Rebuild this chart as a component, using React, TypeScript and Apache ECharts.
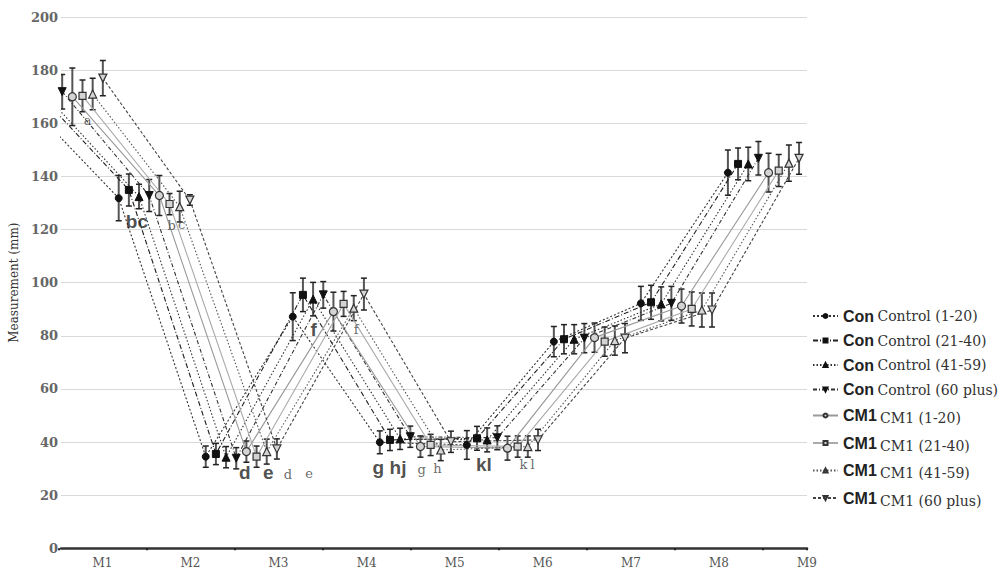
import React, { useEffect, useRef } from 'react';
import * as echarts from 'echarts';

const categories = ['M1', 'M2', 'M3', 'M4', 'M5', 'M6', 'M7', 'M8', 'M9'];
const seriesNames = [
  'Control (1-20)', 'Control (21-40)', 'Control (41-59)', 'Control (60 plus)',
  'CM1 (1-20)', 'CM1 (21-40)', 'CM1 (41-59)', 'CM1 (60 plus)',
];

const control1 = [166, 131.8, 34.5, 87.2, 39.9, 38.9, 77.8, 92.2, 141.4];
const control2 = [170, 134.9, 35.5, 95.4, 40.8, 41.4, 78.7, 92.6, 144.7];
const control3 = [168, 132.4, 34.3, 93.8, 41.2, 40.8, 78.7, 92.0, 144.7];
const control4 = [171.9, 132.8, 33.9, 95.4, 42.0, 41.6, 79.1, 92.2, 146.8];
const cm1a = [170.0, 132.8, 36.4, 89.1, 38.3, 37.7, 79.3, 91.2, 141.4];
const cm1b = [170.3, 129.6, 34.5, 92.0, 38.9, 38.3, 77.8, 90.1, 142.2];
const cm1c = [171.0, 128.6, 36.4, 90.4, 37.0, 38.3, 78.2, 89.7, 145.0];
const cm1d = [177.0, 131.1, 37.4, 95.7, 40.1, 40.8, 79.1, 89.7, 146.8];

const err1 = [6, 8.5, 4, 9, 4.3, 5.4, 5.7, 6.4, 8.5];
const err2 = [6, 6, 4, 6.3, 4, 4.5, 5.5, 6.4, 6];
const err3 = [6, 4.6, 4, 6.3, 4, 4.5, 5.5, 6.4, 6.3];
const err4 = [6.5, 6, 4, 5, 4, 4.5, 5.5, 6.4, 6.3];
const err5 = [10.8, 7.5, 4, 7.3, 4, 4.5, 5.5, 6.4, 7.3];
const err6 = [6, 4, 4, 4.7, 4, 4, 5.5, 6.4, 6];
const err7 = [5.9, 5.8, 4.7, 4.7, 4, 4, 5.5, 6.4, 6.8];
const err8 = [6.6, 2, 3.8, 6, 4, 4, 5.5, 6.4, 6];

const yTicks = [0, 20, 40, 60, 80, 100, 120, 140, 160, 180, 200];

// letter annotations: [text, x (measurement index), y (mm)]
const bigLetters: [string, number, number][] = [
  ['bc', 0.8, 122.9], ['d', 2.04, 28.4], ['e', 2.31, 28.4], ['f', 2.83, 82.2],
  ['g', 3.573, 30.6], ['hj', 3.8, 30.6], ['kl', 4.788, 31.4],
];
const smallLetters: [string, number, number][] = [
  ['a', 0.235, 160.9], ['b', 1.2, 121.7], ['c', 1.314, 122], ['d', 2.536, 27.6],
  ['e', 2.778, 28], ['f', 3.32, 82.2], ['g', 4.073, 29.5], ['h', 4.254, 30],
  ['k', 5.242, 31.4], ['l', 5.347, 31.5],
];

const values = [control1, control2, control3, control4, cm1a, cm1b, cm1c, cm1d];
const errors = [err1, err2, err3, err4, err5, err6, err7, err8];

const DOWN_TRI = 'path://M0,0L10,0L5,9Z';
const symbols = ['circle', 'rect', 'triangle', DOWN_TRI, 'circle', 'rect', 'triangle', DOWN_TRI];
const symbolSizes = [7, 7, 8, 8, 8, 7, 8, 8];
const dashes: any[] = [[2, 2], [5, 2, 1, 2], [1.5, 2], [4, 2, 1, 2], 'solid', 'solid', [1.5, 2], [3, 2]];
const lineColors = ['#333', '#222', '#333', '#333', '#999', '#aaa', '#555', '#444'];

const SPACING = 0.1168;
const XMIN = -0.0715;

export default function App() {
  const ref = useRef<HTMLDivElement>(null);
  useEffect(() => {
    const chart = echarts.init(ref.current!, null, { renderer: 'svg' });
    const lineSeries = seriesNames.map((name, i) => {
      const off = (i - 3.5) * SPACING;
      const filled = i < 4;
      return {
        name,
        type: 'line',
        xAxisIndex: 0,
        yAxisIndex: 0,
        data: values[i].map((v, k) => [k + off, v]),
        symbol: symbols[i],
        symbolSize: symbolSizes[i],
        showAllSymbol: true,
        clip: true,
        z: 4,
        lineStyle: { width: 1.1, color: lineColors[i], type: dashes[i] },
        itemStyle: filled
          ? { color: '#111', borderColor: '#111', borderWidth: 1 }
          : { color: '#d4d4d4', borderColor: '#333', borderWidth: 1.2 },
      };
    });
    const errData: number[][] = [];
    seriesNames.forEach((_, i) => {
      const off = (i - 3.5) * SPACING;
      values[i].forEach((v, k) => {
        errData.push([k + off, v - errors[i][k], v + errors[i][k]]);
      });
    });
    const errSeries = {
      type: 'custom',
      xAxisIndex: 0,
      yAxisIndex: 0,
      clip: true,
      z: 3,
      encode: { x: 0, y: [1, 2] },
      data: errData,
      renderItem: (params: any, api: any) => {
        const x = api.value(0);
        const lo = api.value(1);
        const hi = api.value(2);
        const p1 = api.coord([x, hi]);
        const p2 = api.coord([x, lo]);
        const w = 3;
        return {
          type: 'group',
          children: [
            { type: 'line', shape: { x1: p1[0], y1: p1[1], x2: p2[0], y2: p2[1] }, style: { stroke: '#555', lineWidth: 2 } },
            { type: 'line', shape: { x1: p1[0] - w, y1: p1[1], x2: p1[0] + w, y2: p1[1] }, style: { stroke: '#222', lineWidth: 1.5 } },
            { type: 'line', shape: { x1: p2[0] - w, y1: p2[1], x2: p2[0] + w, y2: p2[1] }, style: { stroke: '#222', lineWidth: 1.5 } },
          ],
        };
      },
    };
    const letterSeries = (arr: [string, number, number][], big: boolean) => ({
      type: 'scatter',
      xAxisIndex: 0,
      yAxisIndex: 0,
      symbolSize: 1,
      itemStyle: { color: 'transparent' },
      silent: true,
      z: 6,
      data: arr.map(([t, x, y]) => ({ value: [x, y], name: t })),
      label: {
        show: true,
        position: 'inside',
        formatter: (p: any) => p.name,
        fontFamily: big ? 'Liberation Sans' : 'DejaVu Serif',
        fontWeight: big ? 'bold' : 'normal',
        fontSize: big ? 19 : 13,
        color: big ? '#222' : '#444',
        textBorderWidth: 0,
      },
    });

    const option: any = {
      animation: false,
      backgroundColor: '#fff',
      grid: [
        { left: 52, right: 193, top: 17, bottom: 31.7 },
        { left: 58.3, right: 193, top: 17, bottom: 31.7 },
        { left: 14.26, right: 193, top: 17, bottom: 31.7 },
      ],
      xAxis: [
        {
          type: 'value', gridIndex: 0, min: XMIN, max: 8.5,
          axisLine: { show: true, onZero: false, lineStyle: { color: '#333', width: 2.5 } },
          axisTick: { show: false }, axisLabel: { show: false }, splitLine: { show: false },
        },
        {
          type: 'value', gridIndex: 1, min: 0, max: 8.5, interval: 1,
          axisLine: { show: false },
          axisTick: { show: true, length: 2, lineStyle: { color: '#222', width: 2 } },
          axisLabel: { show: false }, splitLine: { show: false },
        },
        {
          type: 'value', gridIndex: 2, min: -0.5, max: 8.5, interval: 1,
          axisLine: { show: false }, axisTick: { show: false }, splitLine: { show: false },
          axisLabel: {
            show: true, margin: 9, showMaxLabel: true, showMinLabel: true,
            formatter: (v: number) => (v < 0 ? '' : categories[Math.round(v - 0.5)] ?? ''),
            fontFamily: 'DejaVu Serif', fontSize: 12, color: '#555',
          },
        },
      ],
      yAxis: [
        {
          type: 'value', gridIndex: 0, min: yTicks[0], max: yTicks[yTicks.length - 1], interval: 20,
          name: 'Measurement (mm)', nameLocation: 'middle', nameGap: 40,
          nameTextStyle: { fontFamily: 'DejaVu Serif', fontSize: 12, color: '#333' },
          axisLine: { show: false }, axisTick: { show: false },
          axisLabel: { margin: 3, fontFamily: 'DejaVu Serif', fontWeight: 'bold', fontSize: 13, color: '#666' },
          splitLine: { show: true, lineStyle: { color: '#d9d9d9', width: 1 } },
        },
        { type: 'value', gridIndex: 1, min: 0, max: 1, show: false },
        { type: 'value', gridIndex: 2, min: 0, max: 1, show: false },
      ],
      legend: {
        orient: 'vertical', left: 807, top: 303, itemWidth: 25, itemHeight: 5, itemGap: 8.5,
        data: seriesNames,
        formatter: (name: string) =>
          name.startsWith('Control') ? `{b|Con} {n|${name}}` : `{b|CM1} {s|${name}}`,
        textStyle: {
          rich: {
            b: { fontFamily: 'Liberation Sans', fontWeight: 'bold', fontSize: 16, color: '#222', lineHeight: 16 },
            n: { fontFamily: 'DejaVu Serif', fontSize: 14, color: '#333', lineHeight: 16 },
            s: { fontFamily: 'DejaVu Serif', fontSize: 14, color: '#333', lineHeight: 10, padding: [5, 0, 0, 0] },
          },
        },
      },
      series: [errSeries, ...lineSeries, letterSeries(bigLetters, true), letterSeries(smallLetters, false)],
    };
    chart.setOption(option);
    return () => chart.dispose();
  }, []);
  return <div ref={ref} style={{ position: 'fixed', left: 0, top: 0, width: 1000, height: 580 }} />;
}
